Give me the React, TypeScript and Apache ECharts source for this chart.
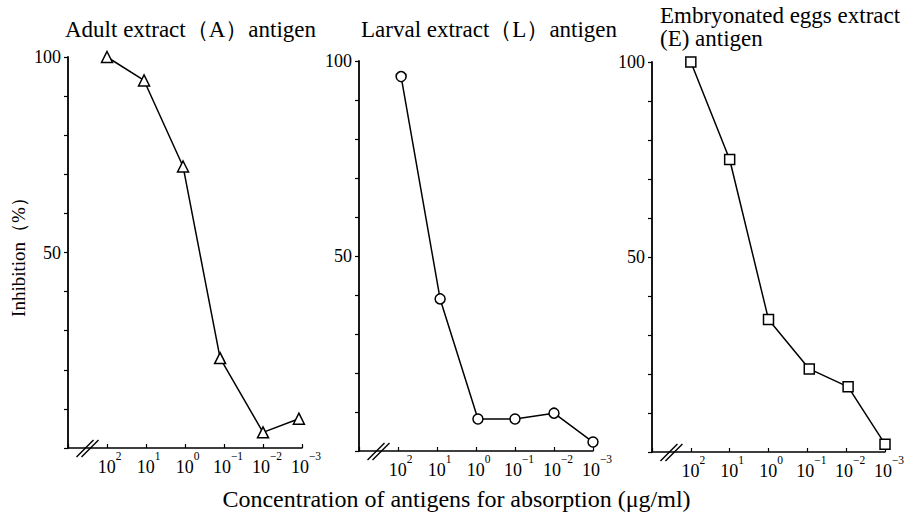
import React, { useEffect, useRef } from "react";
import * as echarts from "echarts";

// exponent of concentration (10^n µg/ml); axis runs from 10^2 (left) to 10^-3 (right)
const xTickExponents = [2, 1, 0, -1, -2, -3];
const supText: Record<string, string> = { "2": "2", "1": "1", "0": "0", "-1": "−1", "-2": "−2", "-3": "−3" };

const adultX = [2, 1.05, 0.05, -0.9, -2, -2.92];
const adultY = [100, 94, 72, 23, 4, 7.5];

const larvalX = [1.92, 0.92, -0.05, -1, -2, -3];
const larvalY = [96, 39, 8.2, 8.2, 9.7, 2.3];

const eggX = [2, 1, 0, -1.05, -2.05, -3];
const eggY = [100, 75, 34, 21.3, 16.7, 2];

const yLabels = [50, 100];

const titles = ["Adult extract（A）antigen", "Larval extract（L）antigen", "Embryonated eggs extract\n(E) antigen"];
const yName = "Inhibition（%）";
const xName = "Concentration of antigens for absorption (μg/ml)";

const FONT = '"Liberation Serif", "Times New Roman", serif';
const INK = "#000";

const grids = [
  { left: 68, top: 57, width: 234, height: 391 },
  { left: 359, top: 61, width: 234, height: 390 },
  { left: 652, top: 62, width: 233, height: 390 },
];

function zip(xs: number[], ys: number[]) {
  return xs.map((x, i) => [x, ys[i]]);
}

export default function App() {
  const ref = useRef<HTMLDivElement>(null);

  useEffect(() => {
    if (!ref.current) return;
    const chart = echarts.init(ref.current, null, { renderer: "svg" });

    const xAxes = grids.map((_, i) => ({
      type: "value",
      gridIndex: i,
      min: -3,
      max: 3,
      interval: 1,
      inverse: true,
      splitLine: { show: false },
      axisLine: { show: true, onZero: false, lineStyle: { color: INK, width: 1.5 } },
      axisTick: { show: true, inside: true, length: 4, lineStyle: { color: INK, width: 1.2 } },
      axisLabel: {
        show: true,
        showMinLabel: true,
        showMaxLabel: true,
        margin: 2,
        color: INK,
        fontFamily: FONT,
        formatter: (v: number) => {
          if (!xTickExponents.includes(v)) return "";
          const s = supText[String(v)];
          const pad = s.length > 1 ? "pb" : "pa";
          return `{${pad}| }{b|10}{s|${s}}`;
        },
        rich: {
          b: { fontSize: 18, fontFamily: FONT, color: INK, lineHeight: 26, verticalAlign: "bottom" },
          s: { fontSize: 11.5, fontFamily: FONT, color: INK, lineHeight: 12, verticalAlign: "top" },
          pa: { width: 5, fontSize: 11, lineHeight: 12 },
          pb: { width: 8, fontSize: 11, lineHeight: 12 },
        },
      },
    }));

    const yAxes = grids.map((_, i) => ({
      type: "value",
      gridIndex: i,
      min: 0,
      max: 100,
      interval: 10,
      splitLine: { show: false },
      axisLine: { show: true, onZero: false, lineStyle: { color: INK, width: 1.8 } },
      axisTick: { show: true, inside: false, length: 4, lineStyle: { color: INK, width: 1.2 } },
      axisLabel: {
        show: true,
        margin: 7,
        color: INK,
        fontSize: 18,
        fontFamily: FONT,
        formatter: (v: number) => (yLabels.includes(v) ? String(v) : ""),
      },
      ...(i === 0
        ? {
            name: yName,
            nameLocation: "middle",
            nameGap: 40,
            nameRotate: 90,
            nameTextStyle: { color: INK, fontSize: 19, fontFamily: FONT },
          }
        : {}),
    }));

    const seriesStyle = (symbol: string, size: number) => ({
      type: "line",
      symbol,
      symbolSize: size,
      showAllSymbol: true,
      lineStyle: { color: INK, width: 1.5 },
      itemStyle: { color: "#fff", borderColor: INK, borderWidth: 1.5 },
      emphasis: { disabled: true },
    });

    const titleStyle = { color: INK, fontSize: 23, fontWeight: "normal", fontFamily: FONT };

    chart.setOption({
      animation: false,
      backgroundColor: "#fff",
      title: [
        { text: titles[0], left: 60, top: 13, textStyle: titleStyle },
        { text: titles[1], left: 356, top: 13, textStyle: titleStyle },
        { text: titles[2], left: 655, top: -1, textStyle: { ...titleStyle, lineHeight: 23 } },
        { text: xName, left: "center", top: 482, textStyle: { ...titleStyle, fontSize: 24 } },
      ],
      grid: grids.map((g) => ({ ...g, containLabel: false })),
      xAxis: xAxes,
      yAxis: yAxes,
      series: [
        { ...seriesStyle("triangle", 11), xAxisIndex: 0, yAxisIndex: 0, data: zip(adultX, adultY) },
        { ...seriesStyle("circle", 10), xAxisIndex: 1, yAxisIndex: 1, data: zip(larvalX, larvalY) },
        { ...seriesStyle("rect", 10), xAxisIndex: 2, yAxisIndex: 2, data: zip(eggX, eggY) },
      ],
    });

    // axis-break marks "//" on each x axis
    const graphics: any[] = [];
    grids.forEach((_, i) => {
      const p = chart.convertToPixel({ gridIndex: i }, [2.5, 0]) as number[];
      if (!p) return;
      [-2.5, 2.5].forEach((dx) => {
        graphics.push({
          type: "line",
          shape: { x1: p[0] + dx - 8.5, y1: p[1] + 9, x2: p[0] + dx + 8.5, y2: p[1] - 8 },
          style: { stroke: INK, lineWidth: 1.4 },
          z: 10,
        });
      });
    });
    chart.setOption({ graphic: graphics });

    return () => chart.dispose();
  }, []);

  return <div ref={ref} style={{ position: "fixed", left: 0, top: 0, width: 913, height: 515 }} />;
}
